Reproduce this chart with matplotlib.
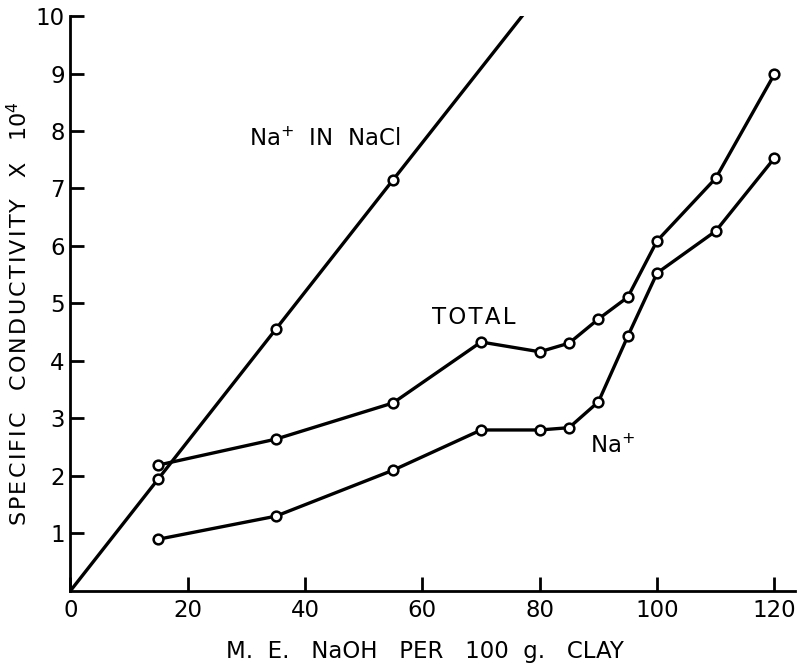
import matplotlib
matplotlib.use("Agg")
import matplotlib.pyplot as plt

# straight line for Na+ in NaCl (markers only at the measured points)
nacl_x = [0, 15, 35, 55, 77]
nacl_y = [0, 1.95, 4.55, 7.15, 10.0]

# total conductivity
total_x = [15, 35, 55, 70, 80, 85, 90, 95, 100, 110, 120]
total_y = [2.19, 2.64, 3.27, 4.33, 4.16, 4.31, 4.73, 5.11, 6.09, 7.18, 8.99]

# Na+ conductivity
na_x = [15, 35, 55, 70, 80, 85, 90, 95, 100, 110, 120]
na_y = [0.90, 1.30, 2.10, 2.80, 2.80, 2.84, 3.29, 4.43, 5.53, 6.26, 7.53]

x_ticks = [0, 20, 40, 60, 80, 100, 120]
y_ticks = [1, 2, 3, 4, 5, 6, 7, 8, 9, 10]

plt.rcParams['font.family'] = ['DejaVu Sans']

hs = '\u200a'  # hair space, for the wide lettering of the original

fig = plt.figure(figsize=(7.99, 6.67), dpi=100)
ax = fig.add_axes([0.088, 0.114, 0.907, 0.862])

line_kw = dict(color='black', lw=2.4, marker='o', ms=7, mfc='white',
               mec='black', mew=1.8)
ax.plot(nacl_x, nacl_y, markevery=[1, 2, 3], **line_kw)
ax.plot(total_x, total_y, **line_kw)
ax.plot(na_x, na_y, **line_kw)

ax.text(30.5, 7.85, 'Na$^{+}$  IN  NaCl', fontsize=16.5, va='center')
ax.text(61.6, 4.76, hs.join('TOTAL'), fontsize=16.5, va='center')
ax.text(88.5, 2.52, 'Na$^{+}$', fontsize=16.5, va='center')

ax.set_xlim(0, 123.5)
ax.set_ylim(0, 10)
ax.set_xticks(x_ticks)
ax.set_yticks(y_ticks)
ax.set_xticklabels([str(v) for v in x_ticks])
ax.set_yticklabels([str(v) for v in y_ticks])

for s in ['top', 'right']:
    ax.spines[s].set_visible(False)
for s in ['left', 'bottom']:
    ax.spines[s].set_linewidth(2)

ax.tick_params(direction='in', length=10, width=2, labelsize=16.5)
ax.tick_params(axis='y', pad=4)
ax.tick_params(axis='x', pad=6)

ax.set_xlabel('M.  E.   NaOH   PER   100  g.   CLAY', fontsize=16.5)
ax.xaxis.set_label_coords(0.49, -0.085)
ylab = hs.join('SPECIFIC') + '   ' + hs.join('CONDUCTIVITY') + '   X   10$^4$'
ax.set_ylabel(ylab, fontsize=16)
ax.yaxis.set_label_coords(-0.054, 0.483)

fig.savefig('out.png', dpi=100)
